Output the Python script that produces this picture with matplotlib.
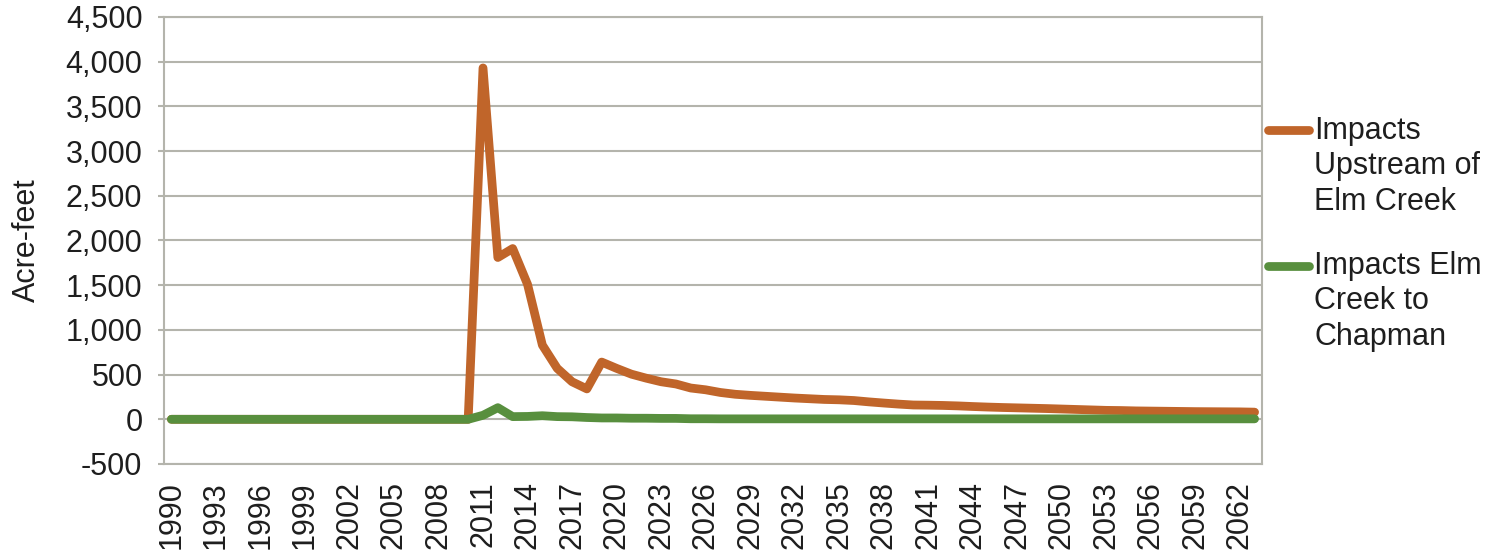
import matplotlib
matplotlib.use("Agg")
import matplotlib.pyplot as plt
from matplotlib.lines import Line2D
from matplotlib.ticker import FuncFormatter, FixedLocator

years = list(range(1990, 2064))

upstream = [0] * 21 + [
    3930, 1810, 1910, 1510, 830, 570, 420, 340, 640, 570,
    505, 460, 420, 395, 350, 330, 300, 280, 268, 258,
    248, 238, 230, 222, 218, 210, 195, 182, 170, 160,
    158, 155, 150, 143, 137, 132, 128, 124, 120, 115,
    110, 105, 100, 98, 94, 92, 90, 88, 86, 85,
    84, 83, 80,
]
elm_to_chapman = [0] * 21 + [
    45, 130, 30, 32, 40, 30, 28, 20, 15, 15,
    12, 12, 10, 10, 6, 6, 5, 5, 5, 5,
    5, 5, 5, 5, 5, 5, 5, 5, 5, 5,
    5, 5, 5, 5, 5, 5, 5, 5, 5, 5,
    5, 5, 5, 5, 5, 5, 5, 5, 5, 5,
    5, 5, 5,
]
series_names = ["Impacts\nUpstream of\nElm Creek", "Impacts Elm\nCreek to\nChapman"]
series_colors = ["#C0652A", "#588F3E"]
y_ticks = list(range(-500, 4501, 500))
x_tick_years = list(range(1990, 2064, 3))

plt.rcParams["font.family"] = ["Liberation Sans", "DejaVu Sans"]
FS = 22
TXT = "#1e1e1e"
grid_col = "#B4B4AC"

fig = plt.figure(figsize=(14.98, 5.52), dpi=100)
ax = fig.add_axes([164 / 1498, 1 - 464 / 552, (1262 - 164) / 1498, (464 - 17) / 552])

idx = list(range(len(years)))
lw = 6.3
ax.plot(idx, upstream, color=series_colors[0], lw=lw, solid_capstyle="round",
        solid_joinstyle="round", zorder=3)
ax.plot(idx, elm_to_chapman, color=series_colors[1], lw=lw, solid_capstyle="round",
        solid_joinstyle="round", zorder=4)

ax.set_xlim(-0.5, len(years) - 0.5)
ax.set_ylim(-500, 4500)
ax.yaxis.set_major_locator(FixedLocator(y_ticks))
ax.yaxis.set_major_formatter(FuncFormatter(lambda v, p: f"{int(v):,}"))
ax.grid(axis="y", color=grid_col, lw=1.5, zorder=1)
ax.set_axisbelow(True)

ax.set_xticks([years.index(y) for y in x_tick_years])
ax.set_xticklabels([str(y) for y in x_tick_years], rotation=90)
ax.tick_params(axis="x", length=0, pad=12.5, labelsize=FS, colors=TXT)
ax.tick_params(axis="y", length=4, width=1.5, color=grid_col, pad=11.5, labelsize=FS,
               labelcolor=TXT)
for s in ax.spines.values():
    s.set_color(grid_col)
    s.set_linewidth(1.5)

ax.set_ylabel("Acre-feet", fontsize=FS, color=TXT)
ax.yaxis.set_label_coords(-0.111, 0.5)

# legend drawn manually
legend_rows = [130, 266]
text_tops = [116, 251]
for name, col, yp, yt in zip(series_names, series_colors, legend_rows, text_tops):
    yf = 1 - yp / 552
    fig.add_artist(Line2D([1268 / 1498, 1309 / 1498], [yf, yf], color=col, lw=lw,
                          solid_capstyle="round", transform=fig.transFigure))
    fig.text(1314 / 1498, 1 - yt / 552, name, fontsize=FS, color=TXT,
             ha="left", va="top", linespacing=1.23)

fig.savefig("out.png", dpi=100)
